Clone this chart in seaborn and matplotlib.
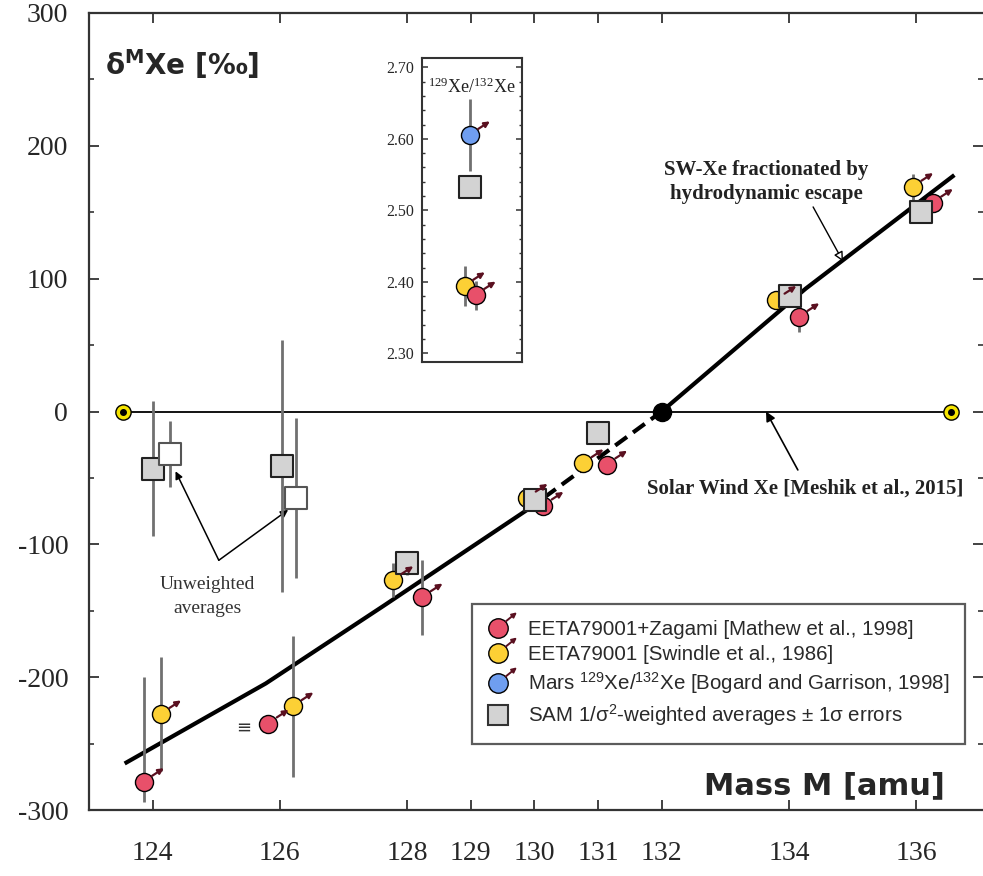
import numpy as np
import pandas as pd
import matplotlib
matplotlib.use("Agg")
import matplotlib.pyplot as plt
import seaborn as sns
from matplotlib.lines import Line2D
from matplotlib.patches import FancyArrowPatch
from matplotlib.legend_handler import HandlerBase
from matplotlib.transforms import ScaledTranslation
from matplotlib.ticker import MultipleLocator, FixedLocator

# ---------------- data ----------------
mathew_mass = [123.86, 125.82, 128.24, 130.14, 131.14, 134.16, 136.26]
mathew_delta = [-279, -235, -140, -71, -40, 71, 157]
mathew_err_lo = [15, 0, 28, 4, 4, 11, 4]
mathew_err_hi = [79, 0, 28, 4, 4, 11, 4]

swindle_mass = [124.13, 126.21, 127.78, 129.89, 130.77, 133.80, 135.95]
swindle_delta = [-228, -222, -127, -65, -39, 84, 169]
swindle_err = [43, 53, 13, 4, 4, 4, 10]

sam_mass = [124.00, 126.04, 128.00, 130.01, 131.00, 134.02, 136.07]
sam_delta = [-43, -41, -114, -67, -16, 87, 150]
sam_err = [51, 95, 9, 3, 3, 3, 3]

unw_mass = [124.28, 126.26]
unw_delta = [-32, -65]
unw_err = [25, 60]

sw_mass = [123.53, 136.54]
sw_delta = [0, 0]

frac_mass = [123.56, 125.77, 127.42, 129.89, 132.00, 134.25, 136.60]
frac_delta = [-265, -205, -153, -74, 0, 92, 178]
frac_dash_range = [130.15, 131.90]
ref_mass = [132.0]
ref_delta = [0.0]

x_ticks = [124, 126, 128, 129, 130, 131, 132, 134, 136]
y_ticks = [-300, -200, -100, 0, 100, 200, 300]

# inset: 129Xe/132Xe
ins_mars_x, ins_mars_y, ins_mars_err = [128.99], [2.605], [0.05]
ins_sam_x, ins_sam_y = [128.99], [2.532]
ins_swi_x, ins_swi_y, ins_swi_err = [128.91], [2.394], [0.028]
ins_mat_x, ins_mat_y, ins_mat_err = [129.08], [2.381], [0.02]
ins_ticks = [2.30, 2.40, 2.50, 2.60, 2.70]

# ---------------- style ----------------
sns.set_theme(style="white")
plt.rcParams["font.family"] = ["DejaVu Sans"]
plt.rcParams["mathtext.default"] = "regular"

RED = "#e8506a"
YEL = "#fcd035"
BLUE = "#6f9ef0"
GREY = "#d3d3d3"
ERRC = "#707070"
ARROWC = "#5a1020"
SPINEC = "#333333"
SERIF = "Liberation Serif"
SANS = "Liberation Sans"

fig = plt.figure(figsize=(9.83, 8.76), dpi=100)
ax = fig.add_axes([89 / 983, 1 - 810 / 876, 1 - 89 / 983, (810 - 13) / 876])
ax.set_xlim(123.0, 137.05)
ax.set_ylim(-300, 300)

for s in ["left", "bottom", "top"]:
    ax.spines[s].set_color(SPINEC)
    ax.spines[s].set_linewidth(1.6)
ax.spines["right"].set_visible(False)

ax.xaxis.set_major_locator(FixedLocator(x_ticks))
ax.yaxis.set_major_locator(FixedLocator(y_ticks))
ax.yaxis.set_minor_locator(MultipleLocator(50))
ax.tick_params(axis="both", which="major", direction="in", length=7, width=1.3,
               color=SPINEC, top=True, right=True, bottom=True, left=True)
ax.tick_params(axis="y", which="minor", direction="in", length=3.5, width=1.2,
               color=SPINEC, left=True, right=True)
ax.tick_params(axis="x", pad=22)
ax.tick_params(axis="y", pad=15)
ax.set_xticklabels([str(t) for t in x_ticks], fontfamily=SERIF, fontsize=20)
ax.set_yticklabels([str(t) for t in y_ticks], fontfamily=SERIF, fontsize=20)
ax.set_xlabel("")
ax.set_ylabel("")

# ---------------- lines ----------------
ax.plot(sw_mass, sw_delta, color="black", lw=1.3, zorder=2)
fm = np.array(frac_mass)
fd = np.array(frac_delta)
xa = np.linspace(fm[0], frac_dash_range[0], 200)
xb = np.linspace(frac_dash_range[0], frac_dash_range[1], 100)
xc = np.linspace(frac_dash_range[1], fm[-1], 200)
for xx, ls in [(xa, "-"), (xb, (0, (3.5, 1.8))), (xc, "-")]:
    ax.plot(xx, np.interp(xx, fm, fd), color="black", lw=3, ls=ls,
            solid_capstyle="butt", zorder=3)

# end markers of solar wind line
ax.plot(sw_mass, sw_delta, ls="none", marker="o", ms=11, mfc="#f5e400",
        mec="black", mew=1.0, zorder=6)
ax.plot(sw_mass, sw_delta, ls="none", marker="o", ms=4, mfc="black",
        mec="black", zorder=7)
ax.plot(ref_mass, ref_delta, ls="none", marker="o", ms=13, mfc="black",
        mec="black", zorder=7)

# ---------------- error bars ----------------
ax.errorbar(mathew_mass, mathew_delta, yerr=[mathew_err_lo, mathew_err_hi],
            fmt="none", ecolor=ERRC, elinewidth=2, zorder=4)
ax.errorbar(swindle_mass, swindle_delta, yerr=swindle_err, fmt="none",
            ecolor=ERRC, elinewidth=2, zorder=4)
ax.errorbar(sam_mass, sam_delta, yerr=sam_err, fmt="none", ecolor=ERRC,
            elinewidth=2, zorder=4)
ax.errorbar(unw_mass, unw_delta, yerr=unw_err, fmt="none", ecolor=ERRC,
            elinewidth=2, zorder=4)


def add_arrows(a, xs, ys):
    for x, y in zip(xs, ys):
        t0 = a.transData + ScaledTranslation(6 / 72, 4.5 / 72, fig.dpi_scale_trans)
        t1 = a.transData + ScaledTranslation(14.5 / 72, 10 / 72, fig.dpi_scale_trans)
        a.annotate("", xy=(x, y), xycoords=t1, xytext=(x, y), textcoords=t0,
                   arrowprops=dict(arrowstyle="-|>", color=ARROWC, lw=1.6,
                                   mutation_scale=8, shrinkA=0, shrinkB=0),
                   zorder=8)


# ---------------- markers ----------------
df_mat = pd.DataFrame({"m": mathew_mass, "d": mathew_delta})
df_swi = pd.DataFrame({"m": swindle_mass, "d": swindle_delta})
df_sam = pd.DataFrame({"m": sam_mass, "d": sam_delta})
df_unw = pd.DataFrame({"m": unw_mass, "d": unw_delta})

sns.scatterplot(data=df_swi, x="m", y="d", ax=ax, marker="o", s=13 ** 2,
                color=YEL, edgecolor="black", linewidth=1.0, zorder=5, legend=False)
sns.scatterplot(data=df_mat, x="m", y="d", ax=ax, marker="o", s=13 ** 2,
                color=RED, edgecolor="black", linewidth=1.0, zorder=5, legend=False)
sns.scatterplot(data=df_sam, x="m", y="d", ax=ax, marker="s", s=15.5 ** 2,
                color=GREY, edgecolor="#222222", linewidth=1.5, zorder=6, legend=False)
sns.scatterplot(data=df_unw, x="m", y="d", ax=ax, marker="s", s=15.5 ** 2,
                color="white", edgecolor="#555555", linewidth=1.5, zorder=7, legend=False)
add_arrows(ax, swindle_mass, swindle_delta)
add_arrows(ax, mathew_mass, mathew_delta)
ax.set_xlabel("")
ax.set_ylabel("")

# ---------------- texts ----------------
ax.text(0.018, 0.957, "δ$^{M}$Xe [‰]", transform=ax.transAxes, ha="left",
        va="top", fontsize=20, fontweight="bold", family="DejaVu Sans")
ax.text(0.9575, 0.02, "Mass M [amu]", transform=ax.transAxes, ha="right",
        va="baseline", fontsize=22, fontweight="bold", family="DejaVu Sans")

ax.text(133.65, 173, "SW-Xe fractionated by\nhydrodynamic escape", ha="center",
        va="center", fontsize=15, fontweight="bold", family=SERIF, linespacing=1.25,
        color="#222222")
ax.annotate("", xy=(134.85, 113), xytext=(134.38, 154),
            arrowprops=dict(arrowstyle="-|>", color="black", fc="white", lw=1.0,
                            mutation_scale=14, shrinkA=0, shrinkB=0))
ax.text(134.25, -58, "Solar Wind Xe [Meshik et al., 2015]", ha="center",
        va="center", fontsize=15, fontweight="bold", family=SERIF, color="#222222")
ax.annotate("", xy=(133.64, 0), xytext=(134.14, -44),
            arrowprops=dict(arrowstyle="-|>", color="black", lw=1.2,
                            mutation_scale=14, shrinkA=0, shrinkB=0))
ax.text(124.86, -139, "Unweighted\naverages", ha="center", va="center",
        fontsize=14, family=SERIF, color="#333333", linespacing=1.55)
for tx, ty in [(124.36, -45), (126.13, -74)]:
    ax.annotate("", xy=(tx, ty), xytext=(125.04, -112),
                arrowprops=dict(arrowstyle="-|>", color="black", lw=1.1,
                                mutation_scale=11, shrinkA=0, shrinkB=0))
ax.text(125.43, -238, "≡", ha="center", va="center", fontsize=13,
        family="DejaVu Sans", color="#333333")


# ---------------- legend ----------------
class HandlerArrowCircle(HandlerBase):
    def create_artists(self, legend, orig_handle, xdescent, ydescent, width,
                       height, fontsize, trans):
        cx = 0.35 * width - xdescent
        cy = 0.5 * height - ydescent
        m = Line2D([cx], [cy], ls="none", marker=orig_handle.get_marker(),
                   ms=orig_handle.get_markersize(), mfc=orig_handle.get_markerfacecolor(),
                   mec=orig_handle.get_markeredgecolor(),
                   mew=orig_handle.get_markeredgewidth(), transform=trans)
        out = [m]
        if orig_handle.get_label() != "sq":
            a = FancyArrowPatch((cx + 5.5, cy + 4.5), (cx + 13.5, cy + 11),
                                arrowstyle="-|>", mutation_scale=7, color=ARROWC,
                                lw=1.4, transform=trans, shrinkA=0, shrinkB=0)
            out.append(a)
        return out


h_red = Line2D([], [], ls="none", marker="o", ms=14, mfc=RED, mec="black", mew=1.0)
h_yel = Line2D([], [], ls="none", marker="o", ms=14, mfc=YEL, mec="black", mew=1.0)
h_blu = Line2D([], [], ls="none", marker="o", ms=14, mfc=BLUE, mec="black", mew=1.0)
h_sq = Line2D([], [], ls="none", marker="s", ms=14.5, mfc=GREY, mec="#333333",
              mew=1.5, label="sq")
labels = ["EETA79001+Zagami [Mathew et al., 1998]",
          "EETA79001 [Swindle et al., 1986]",
          "Mars $^{129}$Xe/$^{132}$Xe [Bogard and Garrison, 1998]",
          "SAM 1/σ$^{2}$-weighted averages ± 1σ errors"]
hm = HandlerArrowCircle()
leg = ax.legend([h_red, h_yel, h_blu, h_sq], labels,
                handler_map={h_red: hm, h_yel: hm, h_blu: hm, h_sq: hm},
                loc="upper left", bbox_to_anchor=(0.428, 0.258), frameon=True,
                fancybox=False, prop={"family": SANS, "size": 14.8},
                labelspacing=0.3, handlelength=1.55, handletextpad=0.45,
                borderpad=0.75, borderaxespad=0)
leg.get_frame().set_edgecolor("#333333")
leg.get_frame().set_linewidth(1.6)
leg.get_frame().set_facecolor("white")
leg.set_zorder(10)
for t in leg.get_texts():
    t.set_color("#2a2a2a")

# ---------------- inset ----------------
ins = fig.add_axes([422 / 983, 1 - 362 / 876, 100 / 983, (362 - 58) / 876])
ins.set_xlim(128.24, 129.81)
ins.set_ylim(2.288, 2.713)
for s in ins.spines.values():
    s.set_color(SPINEC)
    s.set_linewidth(1.5)
ins.set_xticks([])
ins.yaxis.set_major_locator(FixedLocator(ins_ticks))
ins.yaxis.set_minor_locator(MultipleLocator(0.02))
ins.tick_params(axis="y", which="major", direction="in", length=4, width=1.1,
                color=SPINEC, left=True, right=True, pad=6)
ins.tick_params(axis="y", which="minor", direction="in", length=2.5, width=1.0,
                color=SPINEC, left=True, right=True)
ins.set_yticklabels([f"{t:.2f}" for t in ins_ticks], fontfamily=SERIF, fontsize=11.5)
ins.errorbar(ins_mars_x, ins_mars_y, yerr=ins_mars_err, fmt="none", ecolor=ERRC,
             elinewidth=2, zorder=2)
ins.errorbar(ins_swi_x, ins_swi_y, yerr=ins_swi_err, fmt="none", ecolor=ERRC,
             elinewidth=2, zorder=2)
ins.errorbar(ins_mat_x, ins_mat_y, yerr=ins_mat_err, fmt="none", ecolor=ERRC,
             elinewidth=2, zorder=2)
sns.scatterplot(x=ins_mars_x, y=ins_mars_y, ax=ins, marker="o", s=13 ** 2,
                color=BLUE, edgecolor="black", linewidth=1.0, zorder=5, legend=False)
sns.scatterplot(x=ins_swi_x, y=ins_swi_y, ax=ins, marker="o", s=13 ** 2,
                color=YEL, edgecolor="black", linewidth=1.0, zorder=5, legend=False)
sns.scatterplot(x=ins_mat_x, y=ins_mat_y, ax=ins, marker="o", s=13 ** 2,
                color=RED, edgecolor="black", linewidth=1.0, zorder=5, legend=False)
sns.scatterplot(x=ins_sam_x, y=ins_sam_y, ax=ins, marker="s", s=15.5 ** 2,
                color=GREY, edgecolor="#222222", linewidth=1.5, zorder=6, legend=False)
add_arrows(ins, ins_mars_x + ins_swi_x + ins_mat_x, ins_mars_y + ins_swi_y + ins_mat_y)
ins.text(0.5, 0.905, "$^{129}$Xe/$^{132}$Xe", transform=ins.transAxes, ha="center",
         va="center", fontsize=13, family=SERIF, color="#222222")
ins.set_xlabel("")
ins.set_ylabel("")

fig.savefig("out.png", dpi=100)
